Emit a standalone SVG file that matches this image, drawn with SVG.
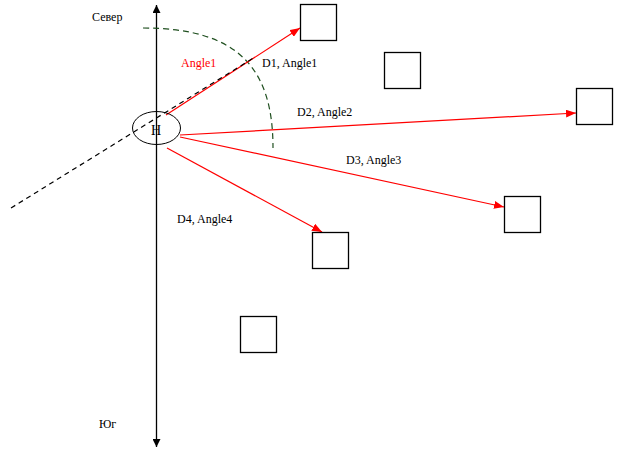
<svg xmlns="http://www.w3.org/2000/svg" width="624" height="457" viewBox="0 0 624 457">
<defs>
<style>
text{font-family:"Liberation Serif","Times New Roman",serif;font-size:12px;fill:#000}
.box{fill:#fff;stroke:#000;stroke-width:1.3}
.red{stroke:#f00;stroke-width:1.2;fill:none;marker-end:url(#ra)}
</style>
<marker id="ra" viewBox="0 0 10 8" refX="10" refY="4" markerWidth="10" markerHeight="8" markerUnits="userSpaceOnUse" orient="auto"><path d="M0,0L10,4L0,8z" fill="#f00"/></marker>
<marker id="ba" viewBox="0 0 8 8" refX="8" refY="4" markerWidth="8" markerHeight="8" markerUnits="userSpaceOnUse" orient="auto-start-reverse"><path d="M0,0L8,4L0,8z" fill="#000"/></marker>
</defs>
<g id="connectors">
<line x1="156.5" y1="5" x2="156.5" y2="447" stroke="#000" stroke-width="1.3" marker-start="url(#ba)" marker-end="url(#ba)"/>
<path d="M143,28 C240,28 273,70 273,148" fill="none" stroke="#1f4f1f" stroke-width="1.2" stroke-dasharray="6,4"/>
<line class="red" x1="166" y1="115" x2="300" y2="28"/>
<line class="red" x1="180" y1="135" x2="576" y2="113"/>
<line class="red" x1="180" y1="137" x2="504" y2="207"/>
<line class="red" x1="167" y1="148" x2="322" y2="232"/>
<line x1="11" y1="208" x2="255" y2="57" stroke="#000" stroke-width="1.2" stroke-dasharray="5,4"/>
</g>
<g id="H">
<ellipse cx="156.5" cy="128" rx="24" ry="16.5" fill="none" stroke="#000" stroke-width="1"/>
<text x="156" y="135" text-anchor="middle" style="font-size:14px">Н</text>
</g>
<g id="sq1"><rect class="box" x="300.5" y="4.5" width="36" height="36"/></g>
<g id="sq2"><rect class="box" x="384.5" y="52.5" width="36" height="36"/></g>
<g id="sq3"><rect class="box" x="576.5" y="88.5" width="36" height="36"/></g>
<g id="sq4"><rect class="box" x="504.5" y="196.5" width="36" height="36"/></g>
<g id="sq5"><rect class="box" x="312.5" y="232.5" width="36" height="36"/></g>
<g id="sq6"><rect class="box" x="240.5" y="316.5" width="36" height="36"/></g>
<g id="labels">
<text x="92" y="21">Север</text>
<text x="181" y="67" style="fill:#f00">Angle1</text>
<text x="262" y="67">D1, Angle1</text>
<text x="297" y="116">D2, Angle2</text>
<text x="346" y="164">D3, Angle3</text>
<text x="177" y="223">D4, Angle4</text>
<text x="99" y="428">Юг</text>
</g>
</svg>
